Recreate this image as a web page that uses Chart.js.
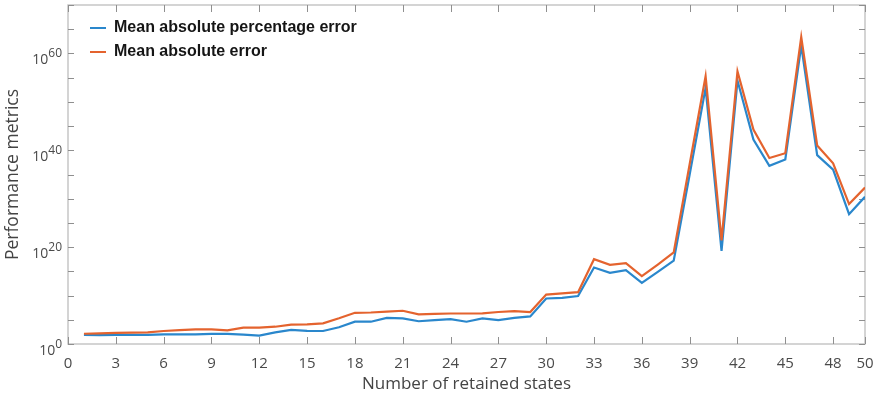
<!DOCTYPE html>
<html>
<head>
<meta charset="utf-8">
<script src="https://cdn.jsdelivr.net/npm/chart.js@4.4.0/dist/chart.umd.min.js"></script>
<style>
  html, body { margin: 0; padding: 0; background: #fff; }
</style>
</head>
<body>
<canvas id="metricsChart" width="880" height="400"></canvas>
<script>
// number of retained states (x)
const states = [1, 2, 3, 4, 5, 6, 7, 8, 9, 10, 11, 12, 13, 14, 15, 16, 17, 18, 19, 20,
  21, 22, 23, 24, 25, 26, 27, 28, 29, 30, 31, 32, 33, 34, 35, 36, 37, 38, 39, 40,
  41, 42, 43, 44, 45, 46, 47, 48, 49, 50];

// Mean absolute percentage error (blue)
const mapeValues = [72, 71, 79, 79, 79, 100, 100, 100, 126, 126,
  89, 56, 250, 790, 500, 480, 2.8e3, 4.0e4, 4.0e4, 2.5e5,
  2.0e5, 5.0e4, 8.9e4, 1.4e5, 4.0e4, 2.0e5, 8.9e4, 2.5e5, 5.0e5, 2.5e9,
  3.5e9, 7.9e9, 6.3e15, 5.0e14, 1.8e15, 4.0e12, 7.9e14, 1.6e17, 1.0e35, 7.9e52,
  1.6e19, 2.5e54, 1.6e42, 6.3e36, 1.3e38, 4.0e61, 1.0e39, 1.0e36, 6.3e26, 2.5e30];

// Mean absolute error (orange)
const maeValues = [130, 160, 190, 220, 250, 480, 700, 1.0e3, 1.0e3, 630,
  2.3e3, 2.5e3, 3.7e3, 1.0e4, 1.1e4, 1.8e4, 2.0e5, 2.8e6, 3.2e6, 5.0e6,
  7.4e6, 1.3e6, 1.6e6, 2.0e6, 2.0e6, 2.2e6, 4.0e6, 6.3e6, 4.0e6, 1.6e10,
  2.8e10, 5.0e10, 3.2e17, 2.2e16, 5.0e16, 1.0e14, 2.5e16, 7.9e18, 1.3e37, 2.0e55,
  2.5e21, 2.0e56, 2.0e44, 2.5e38, 2.5e39, 2.5e63, 1.0e41, 2.0e37, 7.9e28, 2.0e32];

const xTicks = [0, 3, 6, 9, 12, 15, 18, 21, 24, 27, 30, 33, 36, 39, 42, 45, 48, 50];
const yTickExponents = [0, 5, 10, 15, 20, 25, 30, 35, 40, 45, 50, 55, 60, 65, 70];
const yLabelExponents = [0, 20, 40, 60];

const seriesNames = ['Mean absolute percentage error', 'Mean absolute error'];
const seriesColors = ['#2a87cc', '#e4632e'];

const toPoints = vals => states.map((s, i) => ({ x: s, y: vals[i] }));

// box, inward tick marks and 10^n labels
const frameAndLabels = {
  id: 'frameAndLabels',
  beforeDatasetsDraw(chart) {
    const { ctx, chartArea: a, scales: { x, y } } = chart;
    ctx.save();
    ctx.strokeStyle = '#c6c6c6';
    ctx.lineWidth = 1.5;
    ctx.strokeRect(a.left, a.top, a.right - a.left, a.bottom - a.top);

    ctx.strokeStyle = '#8f8f8f';
    ctx.lineWidth = 1;
    ctx.beginPath();
    x.ticks.forEach(t => {
      const px = Math.round(x.getPixelForValue(t.value)) + 0.5;
      ctx.moveTo(px, a.bottom); ctx.lineTo(px, a.bottom - 7);
      ctx.moveTo(px, a.top); ctx.lineTo(px, a.top + 7);
    });
    y.ticks.forEach(t => {
      const py = Math.round(y.getPixelForValue(t.value)) + 0.5;
      ctx.moveTo(a.left, py); ctx.lineTo(a.left + 6, py);
      ctx.moveTo(a.right, py); ctx.lineTo(a.right - 6, py);
    });
    ctx.stroke();

    ctx.fillStyle = '#4a4a4a';
    ctx.textBaseline = 'alphabetic';
    ctx.textAlign = 'right';
    yLabelExponents.forEach(e => {
      const py = y.getPixelForValue(Number('1e' + e));
      const xr = a.left - 6;
      ctx.font = '12px "Open Sans"';
      const exp = String(e);
      ctx.fillText(exp, xr, py + 3.5);
      const w = ctx.measureText(exp).width;
      ctx.font = '14px "Open Sans"';
      ctx.fillText('10', xr - w, py + 10.5);
    });
    ctx.restore();
  },
  afterDatasetsDraw(chart) {
    const { ctx, chartArea: a } = chart;
    ctx.save();
    ctx.font = 'bold 16px "Liberation Sans", Arial, sans-serif';
    ctx.textBaseline = 'middle';
    ctx.textAlign = 'left';
    seriesNames.forEach((name, i) => {
      const ly = a.top + 23 + i * 24;
      ctx.strokeStyle = seriesColors[i];
      ctx.lineWidth = 2;
      ctx.beginPath();
      ctx.moveTo(a.left + 22, ly);
      ctx.lineTo(a.left + 38, ly);
      ctx.stroke();
      ctx.fillStyle = '#151515';
      ctx.fillText(name, a.left + 46, ly);
    });
    ctx.restore();
  }
};

new Chart(document.getElementById('metricsChart'), {
  type: 'line',
  data: {
    datasets: [
      {
        label: seriesNames[0],
        data: toPoints(mapeValues),
        borderColor: seriesColors[0],
        borderWidth: 2.2,
        pointRadius: 0,
        tension: 0,
        order: 2
      },
      {
        label: seriesNames[1],
        data: toPoints(maeValues),
        borderColor: seriesColors[1],
        borderWidth: 2.2,
        pointRadius: 0,
        tension: 0,
        order: 1
      }
    ]
  },
  options: {
    responsive: false,
    animation: false,
    devicePixelRatio: 1,
    layout: { padding: { left: 0, right: 15, top: 5, bottom: 0 } },
    plugins: {
      legend: { display: false },
      tooltip: { enabled: false }
    },
    scales: {
      x: {
        type: 'linear',
        min: 0,
        max: 50,
        afterBuildTicks: s => { s.ticks = xTicks.map(v => ({ value: v })); },
        afterFit: s => { s.height = 56; },
        grid: { display: false },
        border: { display: false },
        ticks: {
          color: '#4a4a4a',
          font: { family: 'Open Sans', size: 15 },
          padding: 3,
          maxRotation: 0,
          autoSkip: false
        },
        title: {
          display: true,
          text: 'Number of retained states',
          color: '#444',
          font: { family: 'Open Sans', size: 17 },
          padding: { top: 0, bottom: 6 }
        }
      },
      y: {
        type: 'logarithmic',
        min: 1,
        max: 1e70,
        afterBuildTicks: s => { s.ticks = yTickExponents.map(e => ({ value: Number('1e' + e) })); },
        afterFit: s => { s.width = 68; },
        grid: { display: false },
        border: { display: false },
        ticks: { display: false },
        title: {
          display: true,
          text: 'Performance metrics',
          color: '#444',
          font: { family: 'Open Sans', size: 17.5 },
          padding: { top: 3, bottom: 0 }
        }
      }
    }
  },
  plugins: [frameAndLabels]
});
</script>
</body>
</html>
